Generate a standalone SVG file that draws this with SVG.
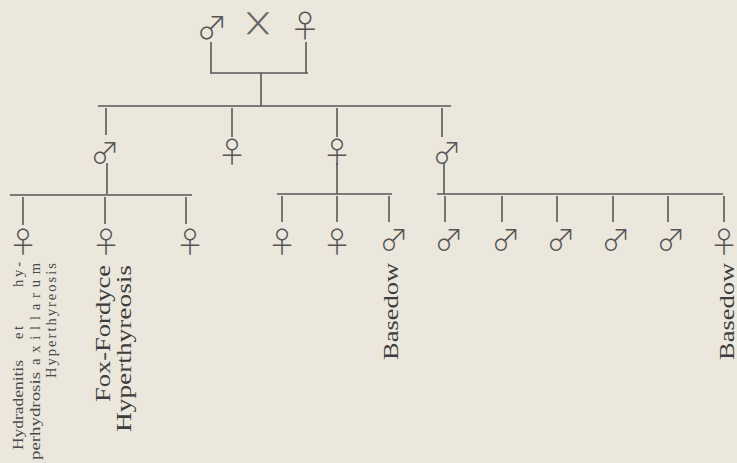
<svg xmlns="http://www.w3.org/2000/svg" width="737" height="463" viewBox="0 0 737 463">
<style>
.ln{stroke:#585858;stroke-width:1.6;fill:none}
.sym{font-family:"Noto Sans CJK JP","DejaVu Sans",sans-serif;font-weight:300;fill:#555;text-anchor:middle;font-size:29px}
.top{font-size:31px}
.x{font-family:"DejaVu Sans",sans-serif;font-weight:400;fill:#666;font-size:19px}
.big{font-family:"Liberation Serif",serif;fill:#3d3d3d;font-size:20px;text-anchor:end}
.sm{font-family:"Liberation Serif",serif;fill:#4a4a4a;font-size:14.5px;text-anchor:end}
</style>
<rect width="737" height="463" fill="#ece7dc"/>
<g id="connectors">
<path class="ln" d="M211 42V73M306 42V73M210 73H308M261 73V106M98 106H451M106 108V135M232 108V137M337 108V137M442 108V137"/>
<path class="ln" d="M107 163V194M10 195H192M23 197V225M105 197V224M186 197V224"/>
<path class="ln" d="M337 163V194M277 194H392M282 196V222M337 196V222M389 196V222"/>
<path class="ln" d="M444 163V194M437 194H723M445 196V222M502 196V222M557 196V222M613 196V222M668 196V222M724 196V222"/>
</g>
<g id="p-father"><text class="sym top" x="212" y="39">♂</text></g>
<g id="cross"><text class="sym x" transform="translate(258,0) scale(1.73,1)" x="0" y="30.5">╳</text></g>
<g id="p-mother"><text class="sym top" x="305" y="37">♀</text></g>
<g id="c1"><text class="sym" x="105" y="164">♂</text></g>
<g id="c2"><text class="sym" x="232" y="163">♀</text></g>
<g id="c3"><text class="sym" x="337" y="163">♀</text></g>
<g id="c4"><text class="sym" x="447" y="164">♂</text></g>
<g id="g1"><text class="sym" x="23" y="253">♀</text></g>
<g id="g2"><text class="sym" x="106" y="253">♀</text></g>
<g id="g3"><text class="sym" x="190" y="253">♀</text></g>
<g id="g4"><text class="sym" x="282" y="253">♀</text></g>
<g id="g5"><text class="sym" x="337" y="253">♀</text></g>
<g id="g6"><text class="sym" x="394" y="251">♂</text></g>
<g id="g7"><text class="sym" x="449" y="251">♂</text></g>
<g id="g8"><text class="sym" x="506" y="251">♂</text></g>
<g id="g9"><text class="sym" x="561" y="251">♂</text></g>
<g id="g10"><text class="sym" x="616" y="251">♂</text></g>
<g id="g11"><text class="sym" x="671" y="251">♂</text></g>
<g id="g12"><text class="sym" x="724" y="253">♀</text></g>
<g id="labels">
<text class="sm" transform="translate(23,360) rotate(-90)" textLength="90" lengthAdjust="spacingAndGlyphs">Hydradenitis</text>
<text class="sm" transform="translate(23,326) rotate(-90)" textLength="13" lengthAdjust="spacing">et</text>
<text class="sm" transform="translate(23,262) rotate(-90)" textLength="25" lengthAdjust="spacing">hy-</text>
<text class="sm" transform="translate(40,372) rotate(-90)" textLength="88" lengthAdjust="spacingAndGlyphs">perhydrosis</text>
<text class="sm" transform="translate(40,263) rotate(-90)" textLength="102" lengthAdjust="spacing">axillarum</text>
<text class="sm" transform="translate(56,263) rotate(-90)" textLength="115" lengthAdjust="spacing">Hyperthyreosis</text>
<text class="big" transform="translate(110,265) rotate(-90)" textLength="137" lengthAdjust="spacingAndGlyphs">Fox-Fordyce</text>
<text class="big" transform="translate(131,265) rotate(-90)" textLength="167" lengthAdjust="spacingAndGlyphs">Hyperthyreosis</text>
<text class="big" transform="translate(398,263) rotate(-90)" textLength="97" lengthAdjust="spacingAndGlyphs">Basedow</text>
<text class="big" transform="translate(734,263) rotate(-90)" textLength="97" lengthAdjust="spacingAndGlyphs">Basedow</text>
</g>
</svg>
